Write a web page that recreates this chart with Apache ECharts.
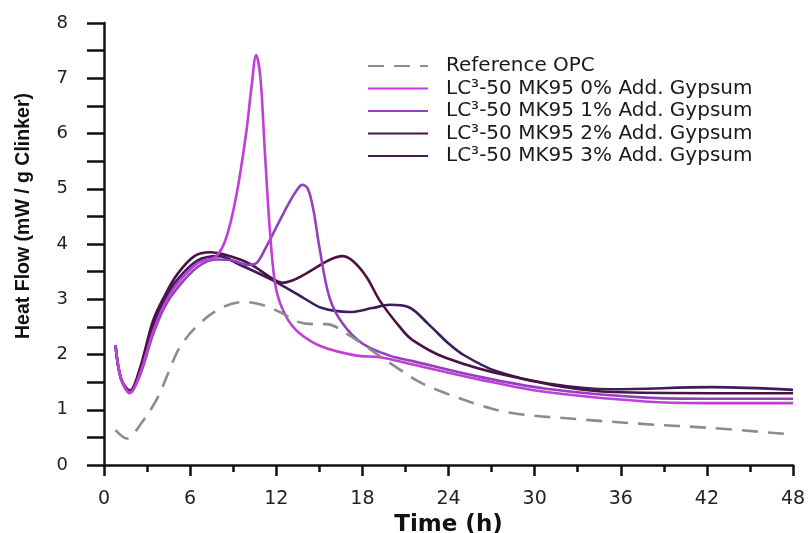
<!DOCTYPE html>
<html>
<head>
<meta charset="utf-8">
<script src="https://cdn.jsdelivr.net/npm/echarts@6/dist/echarts.min.js"></script>
<style>html,body{margin:0;padding:0;background:#fff}#c{width:811px;height:533px}</style>
</head>
<body>
<div id="c"></div>
<script>
var seriesNames = ['Reference OPC', 'LC³-50 MK95 0% Add. Gypsum', 'LC³-50 MK95 1% Add. Gypsum', 'LC³-50 MK95 2% Add. Gypsum', 'LC³-50 MK95 3% Add. Gypsum'];
var xTicks = [0, 6, 12, 18, 24, 30, 36, 42, 48];
var yTicks = [0, 1, 2, 3, 4, 5, 6, 7, 8];

var opcTime = [0.8, 1.6, 2.5, 3.7, 4.5, 5.3, 6.7, 8.3, 9.7, 11.0, 12.4, 13.4, 14.5, 15.5, 16.9, 18.5, 20.3, 22, 23.8, 26, 28.4, 33, 37.7, 42.3, 47.6];
var opcFlow = [0.63, 0.48, 0.72, 1.2, 1.68, 2.14, 2.57, 2.86, 2.95, 2.9, 2.75, 2.6, 2.55, 2.55, 2.38, 2.1, 1.78, 1.5, 1.3, 1.1, 0.94, 0.83, 0.74, 0.67, 0.56];

var g0Time = [0.8, 1.2, 1.8, 2.5, 3.4, 4.2, 5.1, 6.5, 7.8, 8.5, 9.2, 9.9, 10.3, 10.6, 10.9, 11.2, 11.6, 12.0, 12.7, 13.6, 15.2, 17.6, 19.2, 21.5, 26.1, 30.8, 37.7, 42, 48];
var g0Flow = [2.17, 1.55, 1.3, 1.65, 2.4, 2.9, 3.28, 3.65, 3.78, 4.1, 4.85, 6.0, 6.9, 7.42, 7.0, 5.7, 4.1, 3.17, 2.68, 2.39, 2.14, 1.98, 1.95, 1.82, 1.55, 1.32, 1.15, 1.12, 1.12];

var g1Time = [0.8, 1.2, 1.8, 2.5, 3.4, 4.2, 5.1, 6.5, 7.8, 9.0, 10.0, 10.6, 11.3, 12.0, 12.9, 13.5, 13.8, 14.2, 14.6, 15.0, 15.7, 16.6, 18.0, 19.9, 21.5, 26.1, 30.8, 37.7, 42, 48];
var g1Flow = [2.17, 1.55, 1.32, 1.62, 2.35, 2.85, 3.2, 3.58, 3.72, 3.7, 3.62, 3.65, 3.95, 4.3, 4.75, 5.0, 5.07, 5.0, 4.6, 3.95, 3.04, 2.57, 2.2, 1.98, 1.88, 1.6, 1.38, 1.22, 1.2, 1.2];

var g2Time = [0.8, 1.2, 1.8, 2.5, 3.4, 4.2, 5.1, 6.3, 7.4, 8.5, 10.1, 11.7, 12.4, 13.2, 14.1, 15.7, 16.6, 17.3, 18.3, 19.2, 20.6, 21.5, 23.8, 28.4, 35.4, 42.4, 48];
var g2Flow = [2.17, 1.55, 1.35, 1.75, 2.6, 3.05, 3.45, 3.78, 3.85, 3.8, 3.65, 3.38, 3.3, 3.35, 3.47, 3.71, 3.78, 3.7, 3.4, 2.98, 2.5, 2.26, 1.94, 1.6, 1.32, 1.3, 1.3];

var g3Time = [0.8, 1.2, 1.8, 2.5, 3.4, 4.2, 5.1, 6.5, 8.0, 9.5, 11.7, 13.8, 15.2, 17.1, 18.7, 19.9, 21.2, 22.6, 24.0, 25.0, 27.3, 30.8, 35.4, 42.4, 48];
var g3Flow = [2.17, 1.55, 1.33, 1.7, 2.5, 2.98, 3.35, 3.7, 3.78, 3.62, 3.35, 3.04, 2.84, 2.77, 2.84, 2.9, 2.86, 2.55, 2.2, 2.0, 1.7, 1.48, 1.37, 1.41, 1.36];

var colors = ['#8c8c8c', '#c03fd6', '#9440bd', '#4c1244', '#3b1d5c'];

function pairs(t, v) { return t.map(function (x, i) { return [x, v[i]]; }); }
var times = [opcTime, g0Time, g1Time, g2Time, g3Time];
var flows = [opcFlow, g0Flow, g1Flow, g2Flow, g3Flow];

var FONT = '"Liberation Sans", Arial, sans-serif';
var WIDE = '"DejaVu Sans", sans-serif';
var chart = echarts.init(document.getElementById('c'));
chart.setOption({
  animation: false,
  backgroundColor: '#fff',
  grid: { left: 104, right: 18, top: 23, bottom: 68, containLabel: false, outerBoundsMode: 'none' },
  legend: {
    orient: 'vertical', left: 362, top: 51,
    itemWidth: 60, itemHeight: 18, itemGap: 2.5,
    data: seriesNames,
    itemStyle: { opacity: 0 },
    textStyle: { fontFamily: WIDE, fontSize: 20, lineHeight: 18, color: '#1a1a1a', padding: [0, 0, 0, 13] }
  },
  xAxis: {
    type: 'value', min: 0, max: 48, interval: 6,
    name: 'Time (h)', nameLocation: 'middle', nameGap: 41,
    nameTextStyle: { fontFamily: WIDE, fontSize: 23, fontWeight: 'bold', color: '#111' },
    axisLine: { lineStyle: { color: '#111', width: 2.5 } },
    axisTick: { length: 11, lineStyle: { color: '#111', width: 2.5 } },
    minorTick: { show: true, splitNumber: 2, length: 7, lineStyle: { color: '#111', width: 2.5 } },
    axisLabel: { margin: 25, fontFamily: WIDE, fontSize: 19, color: '#222',
      formatter: function (v) { return xTicks.indexOf(v) >= 0 ? String(v) : ''; } },
    splitLine: { show: false }
  },
  yAxis: {
    type: 'value', min: 0, max: 8, interval: 1,
    name: 'Heat Flow (mW / g Clinker)', nameLocation: 'middle', nameGap: 70,
    nameTextStyle: { fontFamily: FONT, fontSize: 19.5, fontWeight: 'bold', color: '#111', padding: [0, 0, 0, 56] },
    axisLine: { show: true, lineStyle: { color: '#111', width: 2.5 } },
    axisTick: { show: true, length: 17, lineStyle: { color: '#111', width: 2.5 } },
    minorTick: { show: true, splitNumber: 2, length: 17, lineStyle: { color: '#111', width: 2.5 } },
    axisLabel: { margin: 36, fontFamily: WIDE, fontSize: 18, color: '#222',
      formatter: function (v) { return yTicks.indexOf(v) >= 0 ? String(v) : ''; } },
    splitLine: { show: false }
  },
  series: seriesNames.map(function (n, i) {
    return {
      name: n, type: 'line', smooth: 0.35, symbol: 'none',
      data: pairs(times[i], flows[i]),
      z: 10 - i,
      lineStyle: { color: colors[i], width: 2.6, type: i === 0 ? [16, 10] : 'solid' },
      itemStyle: { color: colors[i] }
    };
  })
});
</script>
</body>
</html>
